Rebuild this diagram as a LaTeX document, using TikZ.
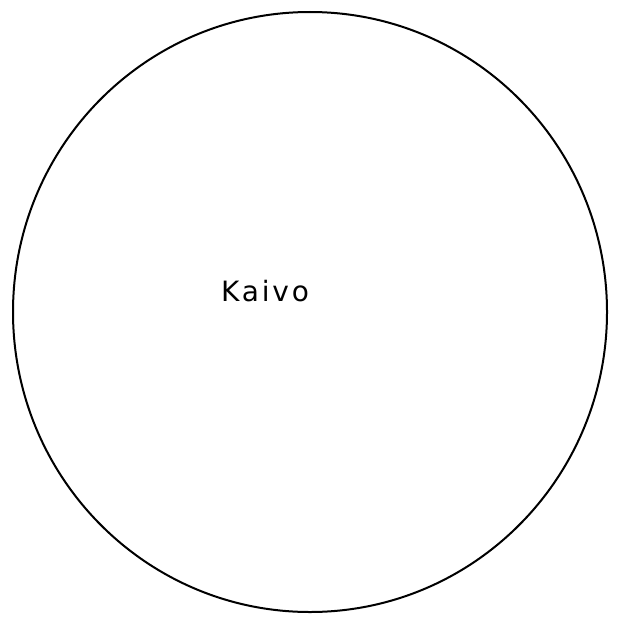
\documentclass[tikz,border=0pt]{standalone}
\usepackage{fontspec}
\newfontfamily\labelfont[LetterSpace=10]{DejaVu Sans}
\tikzset{
  outline/.style={draw=black, line width=2pt},
  wellname/.style={font=\labelfont\fontsize{28}{30}\selectfont, text=black, inner sep=0pt, anchor=base west}
}
\begin{document}
\begin{tikzpicture}[x=1pt,y=-1pt]
  \useasboundingbox[fill=white] (0,0) rectangle (620,618);
  \draw[outline] (310,312) ellipse [x radius=297, y radius=300];
  \node[wellname] (name) at (221,301) {Kaivo};
\end{tikzpicture}
\end{document}
